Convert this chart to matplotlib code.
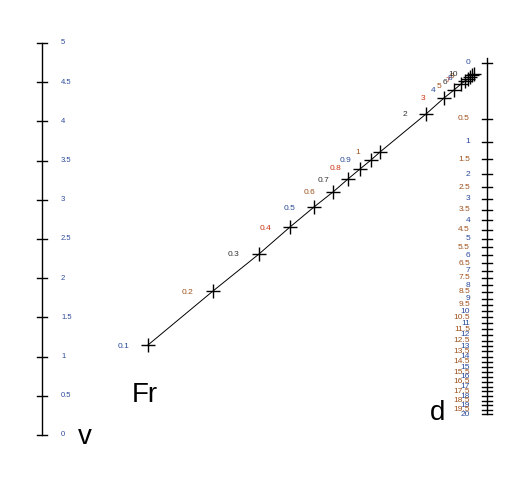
import numpy as np
import matplotlib.pyplot as plt

plt.rcParams['font.family'] = ['Liberation Sans', 'DejaVu Sans']

# nomogram: v scale (left), d scale (right), Fr curve in between
v_ticks = np.arange(0, 5.01, 0.5)
d_ticks = np.arange(0, 20.01, 0.5)
fr_vals = [0.1, 0.2, 0.3, 0.4, 0.5, 0.6, 0.7, 0.8, 0.9, 1, 2, 3, 4, 5, 6, 7, 8, 9, 10]
fr_x = [148, 213, 259, 290, 314, 333, 348, 360, 371, 380, 426, 444, 454, 461, 465, 468, 470, 472, 474]
fr_y = [345, 291, 254, 227, 207, 192, 179, 169, 160, 152, 114, 98, 90, 84, 81, 79, 77, 75, 74]
fr_lx = [124, 188, 233, 265, 290, 309, 324, 336, 346, 358, 405, 423, 433, 439, 445, 448, 450, 452, 453]
fr_ly = [347, 292, 255, 228, 208, 192, 180, 169, 160, 153, 115, 99, 91, 87, 83, 80, 78, 76, 75]

palette = ['#2b4a9a', '#a0521d', '#333333', '#cc3311']

fig = plt.figure(figsize=(5.17, 4.84), dpi=100)
ax = fig.add_axes([0, 0, 1, 1])
ax.set_xlim(0, 517)
ax.set_ylim(484, 0)
ax.axis('off')

# left v axis
def vy(v):
    return 435 - v * 78.4
ax.plot([42, 42], [vy(0), vy(5)], color='black', lw=1)
for i, v in enumerate(v_ticks):
    ax.plot([37, 47], [vy(v), vy(v)], color='black', lw=1)
    ax.text(61, vy(v), f'{v:g}', fontsize=5.5, color='#2b4a9a', ha='left', va='center')

# right d axis (sqrt scale)
def dy(d):
    return 63 + 78.5 * np.sqrt(d)
ax.plot([487, 487], [dy(0) - 5, dy(20)], color='black', lw=1)
for i, d in enumerate(d_ticks):
    ax.plot([482, 492], [dy(d), dy(d)], color='black', lw=1)
    ax.text(470, dy(d), f'{d:g}', fontsize=6, color=palette[i % 2], ha='right', va='center')

# Fr curve
ax.plot(fr_x, fr_y, color='black', lw=0.7)
ax.plot(fr_x, fr_y, '+', color='black', ms=10, mew=1)
for i, f in enumerate(fr_vals):
    ax.text(fr_lx[i], fr_ly[i], f'{f:g}', fontsize=6, color=palette[i % 4], ha='center', va='center')

ax.text(132, 395, 'Fr', fontsize=20, ha='left', va='center')
ax.text(78, 437, 'v', fontsize=20, ha='left', va='center')
ax.text(430, 413, 'd', fontsize=20, ha='left', va='center')

fig.savefig('out.png', dpi=100)
